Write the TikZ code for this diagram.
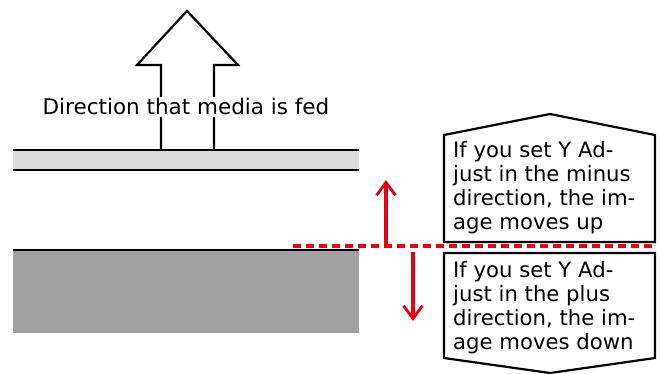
\documentclass[tikz,border=0pt]{standalone}
\usepackage{fontspec}
\setmainfont{DejaVu Sans}
\usepackage{tikz}
\usetikzlibrary{arrows.meta}
\definecolor{shiftred}{HTML}{E60012}
\definecolor{paperlight}{HTML}{DCDCDC}
\definecolor{paperdark}{HTML}{A0A1A0}

\begin{document}
\begin{tikzpicture}[x=1pt,y=-1pt]
  \tikzstyle{edge}=[line width=2.2pt,line join=miter]
  \tikzstyle{offsetarrow}=[shiftred,line width=3.5pt,-{Straight Barb[length=13pt,width=19pt,line width=2.8pt]}]
  \tikzstyle{boxtext}=[font=\fontsize{21.2}{24}\selectfont,inner sep=0pt,align=left]
  \useasboundingbox (0,0) rectangle (660,374);
  % media
  \fill[paperlight] (13,150) rectangle (359,170);
  \foreach \y in {150,170}
     \draw[edge] (13,\y) -- (359,\y);
  \fill[paperdark] (13,250) rectangle (359,333);
  \draw[edge] (13,250) -- (359,250);
  % feed arrow
  \draw[edge] (161,150) -- (161,65) -- (137,65) -- (187,11) -- (238,65)
     -- (214,65) -- (214,150);
  \node[boxtext,font=\fontsize{21.5}{24}\selectfont,fill=white,inner sep=2pt,anchor=base] (fed) at (186,115) {Direction that media is fed};
  % boxes
  \draw[edge] (444,242) -- (444,135) -- (550,114) -- (655,135) -- (655,242) -- cycle;
  \draw[edge] (444,253) -- (444,358) -- (550,373) -- (655,358) -- (655,253) -- cycle;
  \node[boxtext,anchor=north west] (minus) at (453,141)
     {If you set Y Ad-\\just in the minus\\direction, the im-\\age moves up};
  \node[boxtext,anchor=north west] (plus) at (453,261)
     {If you set Y Ad-\\just in the plus\\direction, the im-\\age moves down};
  % offset
  \coordinate (up0) at (386,246);
  \coordinate (up1) at (386,180);
  \coordinate (dn0) at (413,252);
  \coordinate (dn1) at (413,321);
  \draw[shiftred,line width=3.5pt,dash pattern=on 8pt off 5pt] (293,246) -- (655,246);
  \draw[offsetarrow] (up0) -- (up1);
  \draw[offsetarrow] (dn0) -- (dn1);
\end{tikzpicture}
\end{document}
